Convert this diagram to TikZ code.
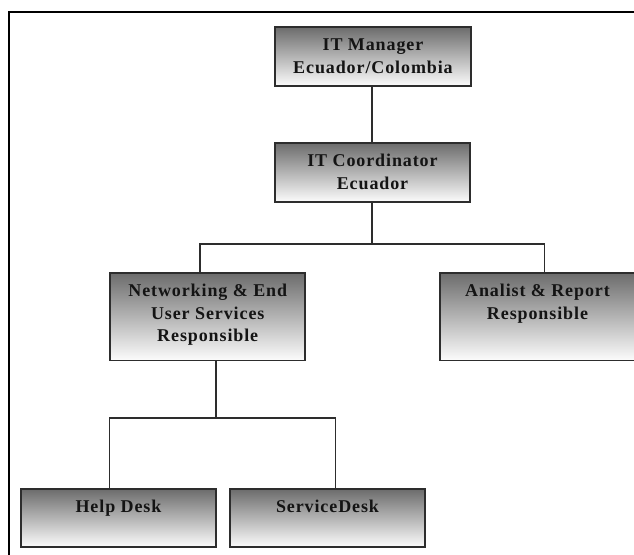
\documentclass[tikz,border=0pt]{standalone}
\usepackage{fontspec}
\setmainfont{Liberation Serif}[LetterSpace=5]
\definecolor{boxtop}{RGB}{108,108,108}
\definecolor{boxbot}{RGB}{252,252,252}
\definecolor{edge}{RGB}{45,45,45}
\definecolor{ink}{RGB}{20,20,20}
\tikzset{
  orgbox/.style={rectangle, draw=edge, line width=1.7pt, inner sep=0pt,
    top color=boxtop, bottom color=boxbot, minimum width=195pt},
  orglabel/.style={anchor=north, inner sep=0pt, align=center, text=ink,
    font=\fontsize{18}{22.5}\selectfont\bfseries},
  wire/.style={draw=edge, line width=1.3pt},
  frameline/.style={draw=black, line width=2.2pt}
}
\newcommand{\firstline}{\rule{0pt}{24.5pt}}
\begin{document}
\begin{tikzpicture}[x=1pt, y=-1pt]
  \useasboundingbox (0,0) rectangle (634,554);
  \fill[white] (0,0) rectangle (634,554);
  \begin{scope}
    \clip (0,0) rectangle (634,554);
    % outer page frame
    \draw[frameline] (9,560) -- (9,12) -- (640,12);

    % boxes
    \node[orgbox, minimum width=196pt, minimum height=59pt] (mgr) at (373,56.5) {};
    \node[orgbox, minimum height=59pt] (coord) at (372.5,172.5) {};
    \node[orgbox, minimum height=87.5pt] (net) at (207.75,316.75) {};
    \node[orgbox, minimum height=87.5pt] (anal) at (537.5,316.75) {};
    \node[orgbox, minimum height=58pt] (help) at (118.5,518) {};
    \node[orgbox, minimum height=58pt] (svc) at (327.5,518) {};

    % labels
    \node[orglabel] (mgr-t) at (mgr.north) {\firstline IT Manager\\Ecuador/Colombia};
    \node[orglabel] (coord-t) at (coord.north) {\firstline IT Coordinator\\Ecuador};
    \node[orglabel] (net-t) at (net.north) {\firstline Networking \& End\\User Services\\Responsible};
    \node[orglabel] (anal-t) at (anal.north) {\firstline Analist \& Report\\Responsible};
    \node[orglabel] (help-t) at (help.north) {\firstline Help Desk};
    \node[orglabel] (svc-t) at (svc.north) {\firstline ServiceDesk};

    % connectors
    \coordinate (busA) at (372,244);
    \coordinate (busB) at (216,418);
    \draw[wire] (mgr.south -| busA) -- (coord.north -| busA);
    \draw[wire] (coord.south -| busA) -- (busA);
    \draw[wire] ([xshift=90.5pt]net.north west) |- (busA);
    \draw[wire] ([xshift=105pt]anal.north west) |- (busA);
    \draw[wire] (net.south -| busB) -- (busB);
    \draw[wire] ([xshift=89pt]help.north west) |- (busB);
    \draw[wire] ([xshift=106pt]svc.north west) |- (busB);
  \end{scope}
\end{tikzpicture}
\end{document}
